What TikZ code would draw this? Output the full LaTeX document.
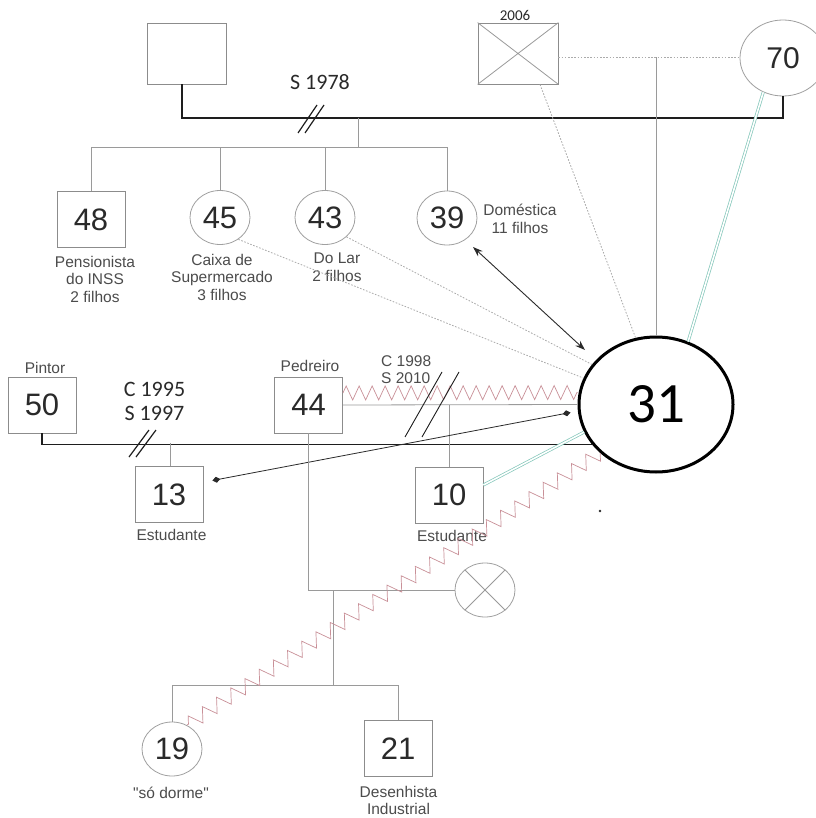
\documentclass[tikz,border=0pt]{standalone}
\usepackage{fontspec}
\setmainfont{Liberation Sans}
\newfontfamily\carlfont{Carlito}
\usetikzlibrary{shapes.geometric,decorations.pathmorphing,arrows.meta,calc}
\definecolor{boxc}{HTML}{8C8C8C}
\definecolor{circ}{HTML}{A0A0A0}
\definecolor{linec}{HTML}{9A9A9A}
\definecolor{dotc}{HTML}{ABABAB}
\definecolor{numc}{HTML}{2A2A2A}
\definecolor{lblc}{HTML}{4C4C4C}
\definecolor{grc}{HTML}{82C6B9}
\definecolor{zzc}{HTML}{C99098}
\definecolor{blk}{HTML}{1E1E1E}
\newcommand\numfont{\fontsize{31}{31}\selectfont}
\newcommand\lblfont{\fontsize{15.5}{17.5}\selectfont}
\newcommand\dq{\XeTeXglyph\XeTeXcharglyph"22\relax}
\begin{document}
\begin{tikzpicture}[x=1pt,y=-1pt,
  box/.style={draw=boxc, line width=0.8pt, minimum width=68pt, minimum height=56pt, inner sep=0pt, font=\numfont, text=numc},
  ell/.style={ellipse, draw=circ, line width=0.8pt, minimum width=60pt, minimum height=54pt, inner sep=0pt, font=\numfont, text=numc},
  lbl/.style={font=\lblfont, text=lblc, align=center, inner sep=0pt},
  gl/.style={draw=linec, line width=0.8pt},
  bl/.style={draw=blk, line width=1.8pt},
  dl/.style={draw=dotc, line width=0.8pt, dash pattern=on 1.6pt off 1.6pt},
  gr/.style={draw=grc, double=white, double distance=1.6pt, line width=0.7pt},
  zz/.style={draw=zzc, line width=0.7pt, decorate, decoration={zigzag, segment length=13pt, amplitude=7pt}},
  zzd/.style={draw=zzc, line width=0.7pt, decorate, decoration={zigzag, segment length=17pt, amplitude=7pt}},
  slash/.style={draw=blk, line width=1.2pt},
  ]
\useasboundingbox (0,0) rectangle (815,818);
\fill[white] (0,0) rectangle (815,818);

% ---------- top generation ----------
\node[box, minimum width=79pt, minimum height=61pt] (ntl) at (186.5,53.5) {};
\node[box, minimum width=80pt, minimum height=61pt] (nx) at (518,53.5) {};
\draw[gl] (nx.north west) -- (nx.south east) (nx.south west) -- (nx.north east);
\node[font=\carlfont\fontsize{15}{15}\selectfont, text=numc, inner sep=0pt] (t2006) at (515,15.5) {2006};
\node[ell, minimum width=86pt, minimum height=76pt, font=\fontsize{30}{30}\selectfont] (n70) at (783,58) {70};

\coordinate (bus1) at (358,118);
\coordinate (sib) at (358,147);
\draw[bl] ([xshift=-4.5pt]ntl.south) |- (n70.south |- bus1) -- (n70.south);
\node[font=\carlfont\fontsize{22}{22}\selectfont, text=numc, inner sep=0pt] (s1978) at (320,82) {S 1978};
\draw[slash] (298,133) -- (317,105);
\draw[slash] (305,133) -- (324,105);
\draw[gl] (bus1) -- (sib);

% ---------- siblings ----------
\node[box] (n48) at (91,219.5) {48};
\node[ell] (n45) at (220,217.5) {45};
\node[ell] (n43) at (325,217.5) {43};
\node[ell] (n39) at (447,218) {39};
\draw[gl] (n48.north) -- (n48.north |- sib) -- (n39.north |- sib) -- (n39.north);
\draw[gl] (n45.north) -- (n45.north |- sib);
\draw[gl] (n43.north) -- (n43.north |- sib);

\node[lbl, anchor=north] (l48) at (95,256) {Pensionista\\do INSS\\2 filhos};
\node[lbl, anchor=north] (l45) at (222,254) {Caixa de\\Supermercado\\3 filhos};
\node[lbl, anchor=north] (l43) at (337,253) {Do Lar\\2 filhos};
\node[lbl, anchor=north] (l39) at (520,204) {Doméstica\\11 filhos};

% ---------- index person ----------
\node[ellipse, draw=black, line width=3pt, minimum width=154pt, minimum height=135pt, inner sep=0pt,
      font=\carlfont\fontsize{57}{57}\selectfont, text=black] (n31) at (656,404.5) {31};

\coordinate (d70) at (740,57);
\draw[dl] ([yshift=-3.5pt]nx.east) -- (d70);
\draw[gl] (n31.north) -- (n31.north |- d70);
\draw[dl] ([xshift=22pt]nx.south) -- (n31.107);
\draw[gr] (n70.240) -- (n31.63);

\draw[dl] (n45.310) -- (n31.160);
\draw[dl] (n43.318) -- (n31.148);
\draw[draw=numc, line width=0.9pt, {Stealth[length=10pt,width=7pt]}-{Stealth[length=10pt,width=7pt]}] (473,247) -- (585,350);

% ---------- partners ----------
\node[box] (n50) at (42,405) {50};
\node[lbl] (lpintor) at (45,368) {Pintor};
\node[box] (n44) at (308.5,405) {44};
\node[lbl] (lpedr) at (310,366) {Pedreiro};

\draw[bl] (n50.south) |- (n31.212);
\node[font=\carlfont\fontsize{22}{22}\selectfont, text=numc, inner sep=0pt] (c1995) at (154.5,389.5) {C 1995};
\node[font=\carlfont\fontsize{22}{22}\selectfont, text=numc, inner sep=0pt] (s1997) at (154.5,413.5) {S 1997};
\draw[slash] (129,457) -- (149,430);
\draw[slash] (136,457) -- (156,430);

\draw[gl] (n44.east) -- (n31.west);
\draw[zz] ([yshift=12pt]n44.east) -- ([yshift=12pt]n31.west);
\node[lbl, align=left, anchor=north west] (c1998) at (381,355) {C 1998\\S 2010};
\draw[draw=blk, line width=0.9pt] (405,437) -- (442,372);
\draw[draw=blk, line width=0.9pt] (422,437) -- (459,372);

% ---------- children ----------
\node[box] (n13) at (169,494.5) {13};
\node[lbl] (l13) at (171.5,535) {Estudante};
\coordinate (c13) at (170,443);
\draw[gl] (c13) -- (c13 |- n13.north);

\node[box] (n10) at (449,495) {10};
\node[lbl] (l10) at (452,536) {Estudante};
\draw[gl] (n10.north) -- (n10.north |- n44.east);

\draw[draw=numc, line width=0.8pt, {Diamond[length=8pt,width=6pt]}-{Diamond[length=8pt,width=6pt]}]
  ([xshift=9pt,yshift=14pt]n13.east) -- ([xshift=-7pt,yshift=-8pt]n31.west);

\draw[gr] ([yshift=10pt]n10.east) -- (n31.201);

% ---------- 44's other family ----------
\node[ell] (nxc) at (485,590) {};
\draw[gl] (nxc.45) -- (nxc.225) (nxc.135) -- (nxc.315);
\draw[gl] (n44.south) |- (nxc.west);
\coordinate (d1) at (333,590);
\coordinate (d2) at (333,685);
\draw[gl] (d1) -- (d2);

\node[ell] (n19) at (172,749) {19};
\node[box] (n21) at (398,748.5) {21};
\draw[gl] (n19.north) -- (n19.north |- d2) -- (n21.north |- d2) -- (n21.north);
\node[lbl, anchor=base] (l19) at (171,798) {\dq só dorme\dq};
\node[lbl, anchor=north] (l21) at (398.5,786) {Desenhista\\Industrial};

\draw[zzd] (n31.221) -- (n19.58);

\fill[numc] (600,511) circle (1.3);
\end{tikzpicture}
\end{document}
